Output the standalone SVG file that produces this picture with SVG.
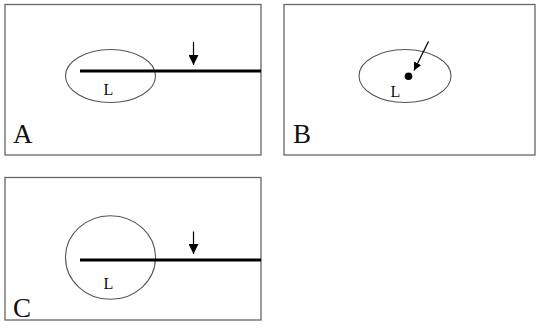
<svg xmlns="http://www.w3.org/2000/svg" width="536" height="331" viewBox="0 0 536 331">
<defs>
<style>
.frame{fill:#fff;stroke:#666;stroke-width:1.3}
.ell{fill:none;stroke:#555;stroke-width:1.1}
.bar{stroke:#000;stroke-width:3}
.arr{stroke:#000;stroke-width:1.2}
.t{font-family:"Liberation Serif",serif;fill:#111}
.big{font-size:27px}
.sm{font-size:16px}
</style>
<marker id="ah" viewBox="0 0 10 10" refX="10" refY="5" markerWidth="8" markerHeight="8" markerUnits="userSpaceOnUse" orient="auto"><path d="M0,0 L10,5 L0,10 Z" fill="#000"/></marker>
<marker id="ahb" viewBox="0 0 10 10" refX="10" refY="5" markerWidth="10" markerHeight="10" markerUnits="userSpaceOnUse" orient="auto"><path d="M0,0 L10,5 L0,10 Z" fill="#000"/></marker>
</defs>
<rect width="536" height="331" fill="#fff"/>
<g id="panelA">
<rect class="frame" x="5" y="4.5" width="256" height="150.5"/>
<ellipse class="ell" cx="110.5" cy="76" rx="45" ry="26.5"/>
<text class="t sm" x="103.5" y="95">L</text>
<text class="t big" x="13" y="143">A</text>
</g>
<g id="panelB">
<rect class="frame" x="284" y="4.5" width="251" height="150.5"/>
<ellipse class="ell" cx="405" cy="76" rx="46" ry="26.5"/>
<circle cx="408.5" cy="76.3" r="3.8" fill="#000"/>
<text class="t sm" x="390.5" y="97">L</text>
<text class="t big" x="293" y="143">B</text>
</g>
<g id="panelC">
<rect class="frame" x="5" y="177.5" width="256" height="142.5"/>
<ellipse class="ell" cx="110.5" cy="257.5" rx="45" ry="41.8"/>
<text class="t sm" x="103.5" y="289">L</text>
<text class="t big" x="13" y="316.5">C</text>
</g>
<g id="connectors">
<line class="bar" x1="80" y1="71" x2="261" y2="71"/>
<line class="arr" x1="193.5" y1="42" x2="193.5" y2="65" marker-end="url(#ahb)"/>
<line class="arr" x1="428.5" y1="41.5" x2="414" y2="70.5" marker-end="url(#ah)"/>
<line class="bar" x1="80" y1="260" x2="261" y2="260"/>
<line class="arr" x1="193.5" y1="231.5" x2="193.5" y2="254" marker-end="url(#ahb)"/>
</g>
</svg>
